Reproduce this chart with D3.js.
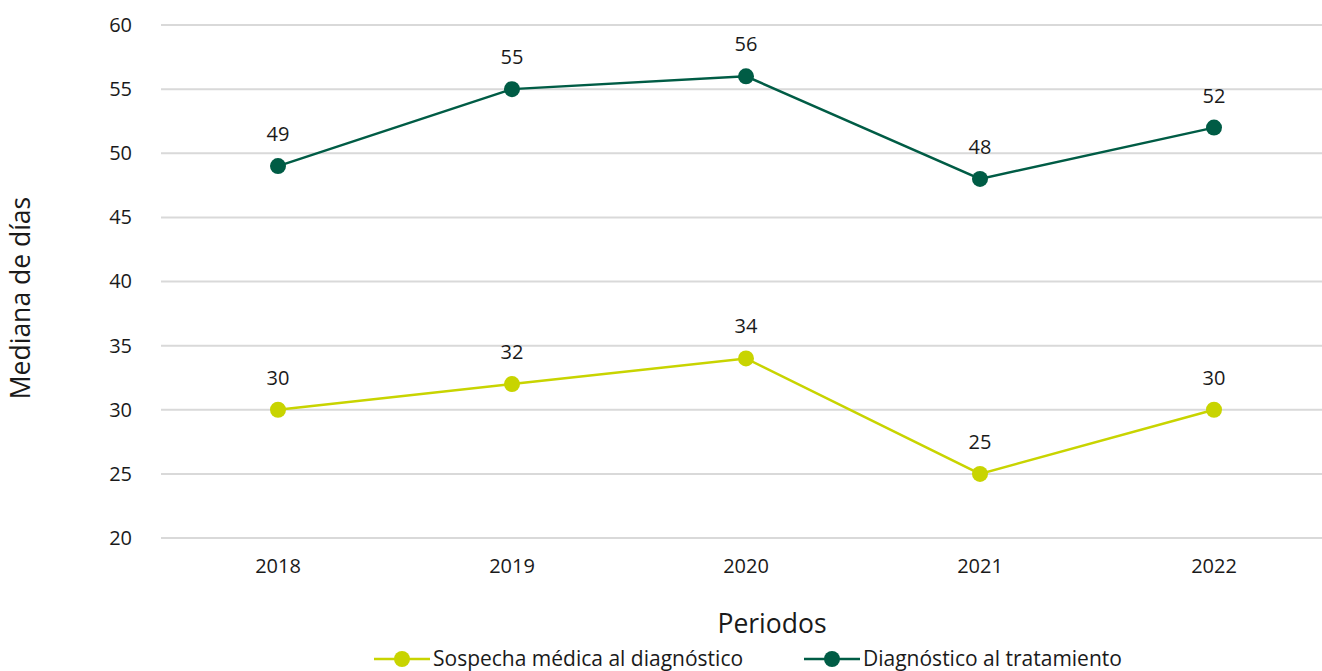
<!DOCTYPE html>
<html>
<head>
<meta charset="utf-8">
<script src="https://cdn.jsdelivr.net/npm/d3@7"></script>
<style>
  body { margin: 0; background: #fff; }
  svg text { font-family: "Open Sans", Lato, sans-serif; fill: #1a1a1a; }
</style>
</head>
<body>
<div id="chart"></div>
<script>
// data
var periods = ["2018", "2019", "2020", "2021", "2022"];
var sospecha = [30, 32, 34, 25, 30];
var diagnostico = [49, 55, 56, 48, 52];
var yTicks = [20, 25, 30, 35, 40, 45, 50, 55, 60];
var seriesNames = ["Sospecha médica al diagnóstico", "Diagnóstico al tratamiento"];
var seriesColors = ["#c8d400", "#005c45"];

var vWidth = 1322, vHeight = 671;
var m = { top: 25, left: 161, right: -9, bottom: 133 };

var svg = d3.select("#chart").append("svg")
    .attr("width", vWidth)
    .attr("height", vHeight);

var x = d3.scaleBand()
    .domain(periods)
    .range([m.left, vWidth - m.right]);

var y = d3.scaleLinear()
    .domain([20, 60])
    .range([vHeight - m.bottom, m.top]);

// gridlines
svg.append("g")
    .selectAll("line")
    .data(yTicks)
    .enter().append("line")
    .attr("x1", m.left)
    .attr("x2", vWidth)
    .attr("y1", function (d) { return y(d); })
    .attr("y2", function (d) { return y(d); })
    .attr("stroke", "#d9d9d9")
    .attr("stroke-width", 2);

// y axis labels
var yAxis = svg.append("g")
    .attr("transform", "translate(" + (m.left - 29) + ",0)")
    .call(d3.axisLeft(y).tickValues(yTicks).tickSize(0).tickPadding(0));
yAxis.select(".domain").remove();
yAxis.selectAll("text").style("font-size", "20px").attr("fill", "#1a1a1a");

// x axis labels
var xAxis = svg.append("g")
    .attr("transform", "translate(0," + (y(20) + 21) + ")")
    .call(d3.axisBottom(x).tickSize(0).tickPadding(0));
xAxis.select(".domain").remove();
xAxis.selectAll("text").style("font-size", "20px").attr("fill", "#1a1a1a");

// axis titles
svg.append("text")
    .attr("transform", "translate(30," + 298 + ") rotate(-90)")
    .attr("text-anchor", "middle")
    .style("font-size", "26.5px")
    .text("Mediana de días");

svg.append("text")
    .attr("x", 772)
    .attr("y", 633)
    .attr("text-anchor", "middle")
    .style("font-size", "26.5px")
    .text("Periodos");

// lines
var allSeries = [sospecha, diagnostico];
var line = d3.line()
    .x(function (d, i) { return x(periods[i]) + x.bandwidth() / 2; })
    .y(function (d) { return y(d); });

allSeries.forEach(function (vals, s) {
    var g = svg.append("g");
    g.append("path")
        .datum(vals)
        .attr("d", line)
        .attr("fill", "none")
        .attr("stroke", seriesColors[s])
        .attr("stroke-width", 2.5);
    g.selectAll("circle")
        .data(vals)
        .enter().append("circle")
        .attr("cx", function (d, i) { return x(periods[i]) + x.bandwidth() / 2; })
        .attr("cy", function (d) { return y(d); })
        .attr("r", 8)
        .attr("fill", seriesColors[s]);
    g.selectAll("text")
        .data(vals)
        .enter().append("text")
        .attr("x", function (d, i) { return x(periods[i]) + x.bandwidth() / 2; })
        .attr("y", function (d) { return y(d) - 25; })
        .attr("text-anchor", "middle")
        .style("font-size", "20px")
        .text(function (d) { return d; });
});

// legend
var legendX = [374, 804];
seriesNames.forEach(function (name, s) {
    var lg = svg.append("g").attr("transform", "translate(" + legendX[s] + ",659)");
    lg.append("line")
        .attr("x1", 0).attr("x2", 56)
        .attr("stroke", seriesColors[s])
        .attr("stroke-width", 2.5);
    lg.append("circle")
        .attr("cx", 28).attr("r", 8)
        .attr("fill", seriesColors[s]);
    lg.append("text")
        .attr("x", 59)
        .attr("y", 7)
        .style("font-size", "21px")
        .text(name);
});
</script>
</body>
</html>
